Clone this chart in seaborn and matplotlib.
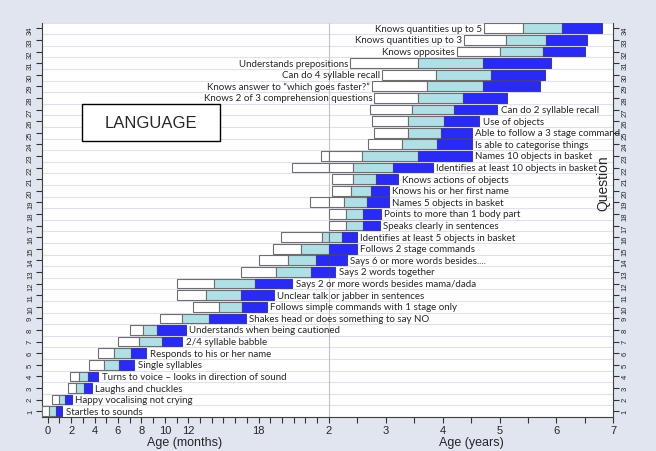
import numpy as np
import matplotlib
matplotlib.use("Agg")
import matplotlib.pyplot as plt
import seaborn as sns
from matplotlib.patches import Rectangle

# questions, bottom (1) to top (34)
questions = [
    "Startles to sounds",
    "Happy vocalising not crying",
    "Laughs and chuckles",
    "Turns to voice \u2013 looks in direction of sound",
    "Single syllables",
    "Responds to his or her name",
    "2/4 syllable babble",
    "Understands when being cautioned",
    "Shakes head or does something to say NO",
    "Follows simple commands with 1 stage only",
    "Unclear talk or jabber in sentences",
    "Says 2 or more words besides mama/dada",
    "Says 2 words together",
    "Says 6 or more words besides....",
    "Follows 2 stage commands",
    "Identifies at least 5 objects in basket",
    "Speaks clearly in sentences",
    "Points to more than 1 body part",
    "Names 5 objects in basket",
    "Knows his or her first name",
    "Knows actions of objects",
    "Identifies at least 10 objects in basket",
    "Names 10 objects in basket",
    "Is able to categorise things",
    "Able to follow a 3 stage command",
    "Use of objects",
    "Can do 2 syllable recall",
    "Knows 2 of 3 comprehension questions",
    "Knows answer to \u201cwhich goes faster?\u201d",
    "Can do 4 syllable recall",
    "Understands prepositions",
    "Knows opposites",
    "Knows quantities up to 3",
    "Knows quantities up to 5",
]

# age in months at the box edges: white | light blue | blue
start = [-0.5, 0.4, 1.7, 1.9, 3.5, 4.3, 6.0, 7.0, 9.6, 12.4, 11.0, 11.0, 16.5, 18.0, 19.2, 19.9, 24.0,
         24.1, 22.4, 24.7, 24.7, 20.9, 23.3, 32.2, 33.6, 33.1, 32.6, 33.6, 33.1, 35.3, 28.5, 51.0, 52.6, 56.8]
q1 = [0.1, 1.0, 2.4, 2.7, 4.8, 5.7, 7.8, 8.1, 11.5, 14.6, 13.5, 14.2, 19.5, 20.5, 21.6, 23.4, 27.7,
      27.7, 27.3, 28.7, 29.2, 29.2, 31.0, 39.5, 40.7, 40.6, 41.5, 42.9, 44.8, 46.7, 42.9, 60.0, 61.3, 65.0]
q2 = [0.7, 1.5, 3.1, 3.4, 6.1, 7.1, 9.8, 9.3, 13.8, 16.6, 16.5, 17.7, 22.5, 22.9, 24.0, 26.8, 31.2,
      31.3, 32.0, 32.9, 34.0, 37.6, 42.9, 46.9, 47.6, 48.2, 50.5, 52.2, 56.6, 58.1, 56.6, 69.1, 69.7, 73.2]
end = [1.25, 2.05, 3.75, 4.3, 7.4, 8.4, 11.5, 11.8, 16.9, 18.7, 19.3, 20.9, 25.4, 27.8, 29.9, 29.9, 34.8,
       35.0, 36.7, 36.7, 38.7, 45.9, 54.2, 54.2, 54.2, 55.7, 59.5, 61.6, 68.5, 69.6, 70.8, 78.1, 78.4, 81.5]

month_ticks = list(range(0, 25)) + [30, 36, 42, 48, 54, 60, 66, 72, 78, 84]
tick_text = {0: "0", 2: "2", 4: "4", 6: "6", 8: "8", 10: "10", 12: "12", 18: "18",
             24: "2", 36: "3", 48: "4", 60: "5", 72: "6", 84: "7"}

BG = "#e1e5f0"
K = 0.405  # years part is squeezed relative to months part


def fwd(m):
    m = np.asarray(m, dtype=float)
    return np.where(m <= 24, m, 24 + (m - 24) * K)


def inv(u):
    u = np.asarray(u, dtype=float)
    return np.where(u <= 24, u, 24 + (u - 24) / K)


sns.set_theme(style="white")
plt.rcParams['font.family'] = ['Liberation Sans', 'DejaVu Sans']

fig = plt.figure(figsize=(6.56, 4.52), dpi=100, facecolor=BG)
ax = fig.add_axes([0.0645, 0.0752, 0.8705, 0.8728])
ax.set_facecolor("white")
ax.set_xscale('function', functions=(fwd, inv))

colors = ["white", "#b0dfe6", "#2a2af6"]
edges = ["#6e6e6e", "#6e6e6e", "#3a3aa0"]
rows = np.arange(1, len(questions) + 1)
lab_font = ['Lato', 'DejaVu Sans']

for i, r in enumerate(rows):
    b = [start[i], q1[i], q2[i], end[i]]
    for j in range(3):
        lo, hi = b[j], b[j + 1]
        # boxes that cross 2 years are cut in two (months / years panels)
        parts = [(lo, 24), (24, hi)] if lo < 24 < hi else [(lo, hi)]
        for p, q in parts:
            ax.barh(r, q - p, left=p, height=0.84, color=colors[j],
                    edgecolor=edges[j], linewidth=0.8, zorder=3)
    if r <= 27:
        ax.annotate(questions[i], xy=(end[i], r), xytext=(2.5, 0), textcoords="offset points",
                    ha="left", va="center", fontsize=7, family=lab_font, zorder=4)
    else:
        ax.annotate(questions[i], xy=(start[i], r), xytext=(-1.5, 0), textcoords="offset points",
                    ha="right", va="center", fontsize=7, family=lab_font, zorder=4)

ax.axvline(24, color="#c4c4c4", lw=0.8, zorder=1.5)

ax.set_xlim(-0.46, 84)
ax.set_ylim(0.5, 34.5)
ax.set_xticks(month_ticks)
ax.set_xticklabels([tick_text.get(t, "") for t in month_ticks])
ax.set_yticks(rows)
ax.set_yticklabels([str(r) for r in rows])
ax.set_yticks(np.arange(0.5, 35, 1), minor=True)
ax.grid(which="minor", axis="y", color="#dde2ee", lw=0.8, zorder=0)
ax.grid(which="major", axis="both", visible=False)

ax.tick_params(axis="x", which="major", direction="out", length=4, width=0.8, color="#333333",
               labelsize=8, pad=1.5, bottom=True)
ax.tick_params(axis="y", which="major", direction="out", length=4, width=0.8, color="#333333",
               labelsize=5.5, pad=2, left=True, right=True, labelleft=True, labelright=True,
               labelrotation=90)
ax.tick_params(axis="y", which="minor", length=0)

for s in ["left", "right", "bottom"]:
    ax.spines[s].set_color("#404040")
    ax.spines[s].set_linewidth(0.8)
ax.spines["top"].set_visible(False)

fig.text(185 / 656, 1 - 443 / 452, "Age (months)", ha="center", va="center", fontsize=9)
fig.text(471 / 656, 1 - 443 / 452, "Age (years)", ha="center", va="center", fontsize=9)

ax.text(0.982, 0.596, "Question", rotation=90, transform=ax.transAxes,
        ha="center", va="center", fontsize=10)

ax.add_patch(Rectangle((0.0695, 0.700), 0.242, 0.093, transform=ax.transAxes,
                       facecolor="white", edgecolor="black", lw=1, zorder=5))
ax.text(0.0695 + 0.121, 0.7465, "LANGUAGE", transform=ax.transAxes,
        ha="center", va="center", fontsize=12, zorder=6)

fig.savefig("out.png", dpi=100, facecolor=BG)
